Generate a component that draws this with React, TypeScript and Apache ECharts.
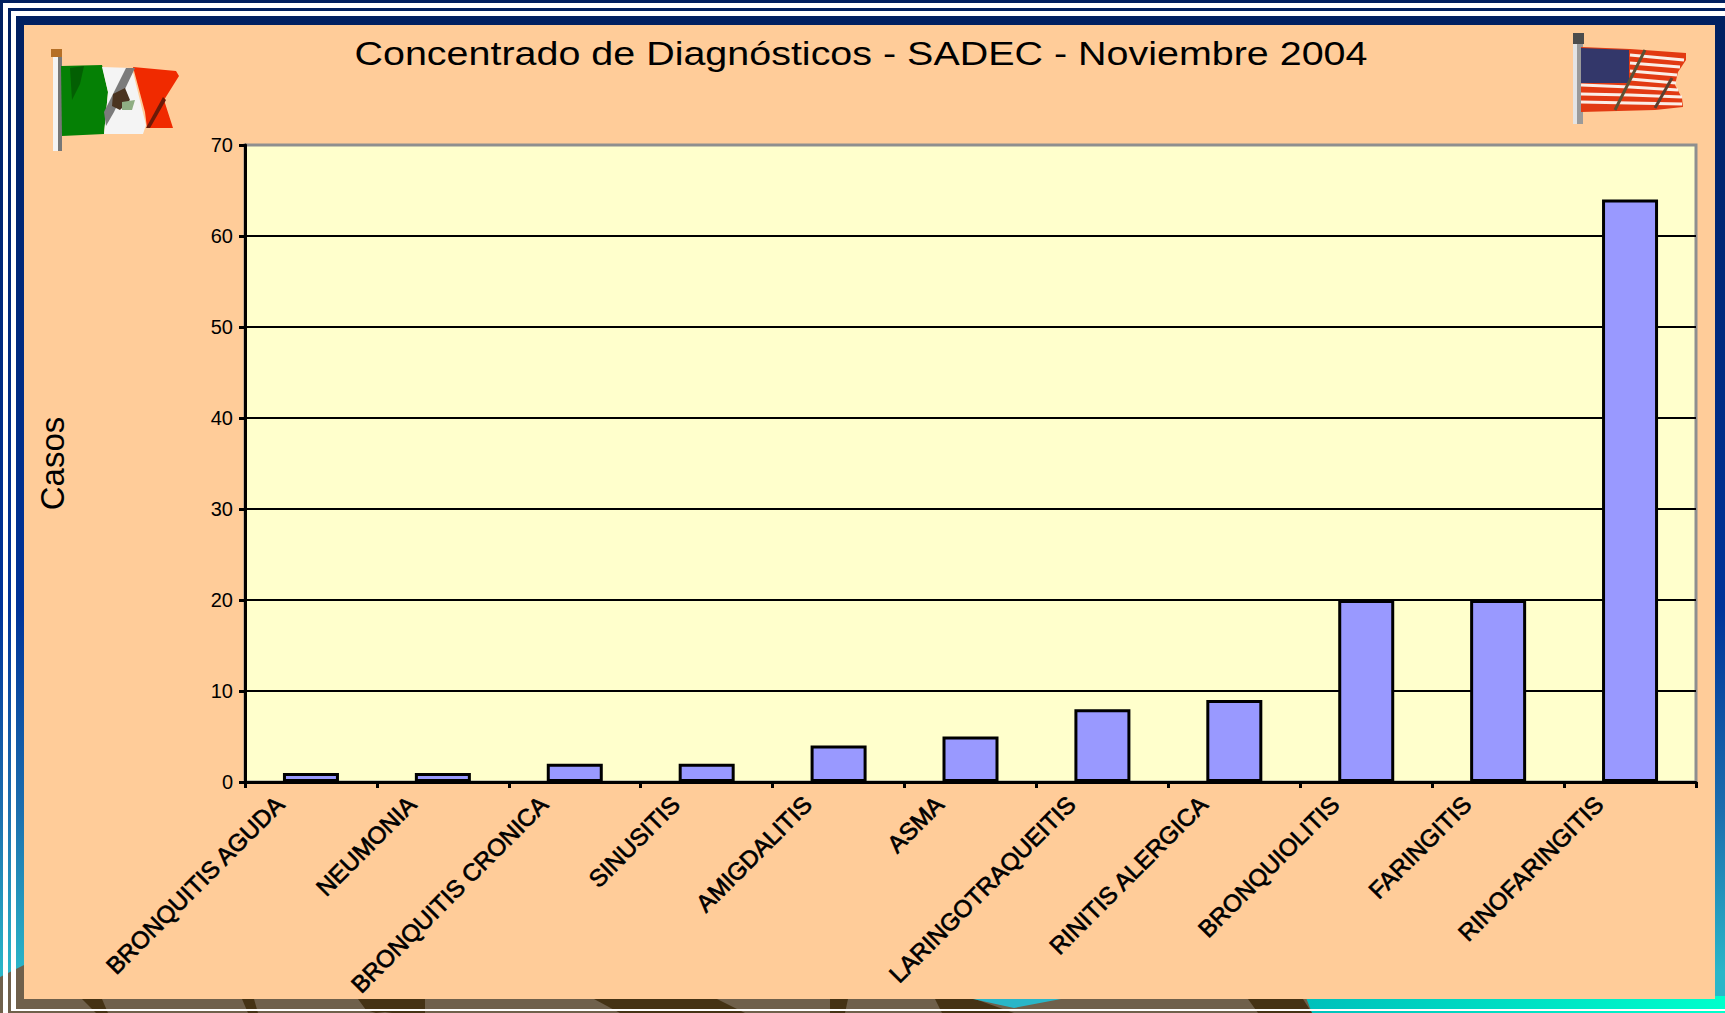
import React, { useEffect, useRef } from "react";
import * as echarts from "echarts";

const categories = ["BRONQUITIS AGUDA", "NEUMONIA", "BRONQUITIS CRONICA", "SINUSITIS", "AMIGDALITIS", "ASMA", "LARINGOTRAQUEITIS", "RINITIS ALERGICA", "BRONQUIOLITIS", "FARINGITIS", "RINOFARINGITIS"];
const casos = [1, 1, 2, 2, 4, 5, 8, 9, 20, 20, 64];
const titleText = "Concentrado de Diagnósticos - SADEC - Noviembre 2004";
const yName = "Casos";

const poly = (points: number[][], fill: string, z = 5) => ({ type: "polygon", z, silent: true, shape: { points }, style: { fill } });
const rect = (x: number, y: number, width: number, height: number, fill: any, z = -5) => ({ type: "rect", z, silent: true, shape: { x, y, width, height }, style: { fill } });
const stroke = (points: number[][], color: string, lineWidth: number, z = 6) => ({ type: "polyline", z, silent: true, shape: { points }, style: { stroke: color, lineWidth, fill: "none" } });

const skyGradient = new echarts.graphic.LinearGradient(0, 0, 0, 1, [
  { offset: 0, color: "#001f5f" },
  { offset: 0.6, color: "#003399" },
  { offset: 0.8, color: "#1c6eae" },
  { offset: 0.96, color: "#2ab6c8" },
  { offset: 1, color: "#2ab6c8" },
]);
const seaGradient = new echarts.graphic.LinearGradient(0, 0, 1, 0, [
  { offset: 0, color: "#00bfbb" },
  { offset: 1, color: "#00ffcc" },
]);

const backdrop = [
  rect(0, 0, 1725, 1013, skyGradient, -20),
  rect(1300, 996, 425, 17, seaGradient, -19),
  poly([[0, 1013], [0, 977], [24, 965], [80, 958], [1000, 960], [1303, 990], [1312, 1013]], "#6f604b", -19),
  poly([[82, 999], [102, 999], [108, 1013], [96, 1013]], "#453315", -18),
  poly([[242, 999], [254, 999], [258, 1013], [248, 1013]], "#453315", -18),
  poly([[358, 999], [425, 999], [425, 1013], [392, 1013], [385, 1012], [376, 1013], [366, 1010]], "#453315", -18),
  poly([[594, 999], [717, 999], [745, 1013], [620, 1013]], "#453315", -18),
  poly([[830, 999], [848, 999], [845, 1013], [830, 1013]], "#453315", -18),
  poly([[935, 999], [975, 999], [1014, 1013], [942, 1013]], "#453315", -18),
  poly([[973, 999], [1061, 999], [1014, 1008]], "#2ab6c8", -17),
  poly([[1248, 999], [1303, 999], [1312, 1013], [1258, 1013]], "#453315", -18),
  rect(3, 3, 5, 1010, "#ffffff", -10),
  rect(3, 3, 1722, 5, "#ffffff", -10),
  rect(11, 11, 5, 998, "#ffffff", -10),
  rect(11, 11, 1714, 5, "#ffffff", -10),
  rect(11, 1009, 1714, 2, "#ffffff", -10),
  rect(24, 25, 1691, 974, "#ffcc99", -8),
];

const mexicoFlag = [
  rect(53, 57, 9, 94, "#f4f4f4", 5),
  rect(58, 57, 4, 94, "#777777", 5),
  rect(51, 49, 11, 8, "#b56f26", 5),
  poly([[61, 66], [102, 65], [108, 92], [104, 134], [62, 136]], "#058005"),
  poly([[70, 68], [84, 66], [80, 84], [72, 100]], "#035f03", 6),
  poly([[102, 67], [132, 68], [146, 125], [143, 134], [104, 134], [108, 92]], "#f4f4f4"),
  poly([[133, 67], [176, 71], [179, 76], [164, 100], [173, 128], [147, 128], [145, 112]], "#f02a00"),
  poly([[126, 68], [135, 68], [114, 112], [106, 126], [104, 112]], "#7b7b7b", 6),
  poly([[163, 97], [166, 100], [150, 128], [146, 128]], "#6b1a08", 6),
  poly([[113, 94], [125, 88], [130, 100], [120, 110], [112, 106]], "#4a3320", 7),
  poly([[122, 102], [135, 100], [132, 110], [122, 110]], "#8fae83", 7),
];

const usFlag = [
  rect(1573, 38, 10, 86, "#e4e4e4", 5),
  rect(1577, 38, 6, 86, "#9a9a9a", 5),
  rect(1573, 33, 11, 11, "#4c4c4c", 5),
  poly([[1581, 47], [1630, 49], [1686, 53], [1686, 60], [1678, 72], [1675, 85], [1682, 98], [1683, 107], [1655, 110], [1581, 112]], "#e23a12"),
  stroke([[1630, 55], [1684, 60]], "#fbeee6", 3),
  stroke([[1630, 63], [1680, 67]], "#fbeee6", 3),
  stroke([[1630, 71], [1677, 75]], "#fbeee6", 3),
  stroke([[1630, 79], [1676, 83]], "#fbeee6", 3),
  stroke([[1581, 85], [1630, 87], [1678, 90]], "#fbeee6", 3),
  stroke([[1581, 94], [1630, 95], [1682, 97]], "#fbeee6", 3),
  stroke([[1581, 102], [1630, 103], [1682, 104]], "#fbeee6", 3),
  poly([[1581, 48], [1629, 50], [1629, 83], [1581, 83]], "#33376a", 7),
  stroke([[1645, 50], [1615, 110]], "#5b5135", 3, 8),
  stroke([[1672, 78], [1655, 108]], "#5b4030", 3, 8),
];

const option: any = {
  animation: false,
  backgroundColor: "transparent",
  textStyle: { fontFamily: "Liberation Sans" },
  grid: { left: 245, right: 29, top: 145, bottom: 231, show: true, backgroundColor: "#ffffcc", borderColor: "#8f8f8f", borderWidth: 3, containLabel: false },
  xAxis: {
    type: "category",
    data: categories,
    axisLine: { lineStyle: { color: "#000", width: 3 } },
    axisTick: { show: true, length: 6, lineStyle: { color: "#000", width: 3 } },
    axisLabel: { interval: 0, rotate: 45, margin: -13, padding: [0, 44, 0, 0], color: "#000", fontFamily: "Liberation Sans", fontSize: 24, fontWeight: "normal", textBorderColor: "#000", textBorderWidth: 0.7 },
  },
  yAxis: {
    type: "value",
    min: 0,
    max: 70,
    interval: 10,
    name: yName,
    nameLocation: "middle",
    nameGap: 176,
    nameTextStyle: { color: "#000", fontFamily: "Liberation Sans", fontSize: 33 },
    axisLine: { show: true, lineStyle: { color: "#000", width: 3 } },
    axisTick: { show: true, length: 6, lineStyle: { color: "#000", width: 3 } },
    axisLabel: { margin: 12, color: "#000", fontFamily: "Liberation Sans", fontSize: 20 },
    splitLine: { show: true, lineStyle: { color: ["#000", "#000", "#000", "#000", "#000", "#000", "#000", "#8f8f8f"], width: 2 } },
  },
  series: [{
    type: "bar",
    data: casos,
    barWidth: 56,
    itemStyle: { color: "#9999ff", borderColor: "#000", borderWidth: 3 },
  }],
  graphic: [
    ...backdrop,
    ...mexicoFlag,
    ...usFlag,
    { type: "text", z: 10, silent: true, x: 861, y: 54, scaleX: 1.196, style: { text: titleText, fill: "#000", fontFamily: "Liberation Sans", fontSize: 33, align: "center", verticalAlign: "middle" } },
  ],
};

export default function App() {
  const ref = useRef<HTMLDivElement>(null);
  useEffect(() => {
    document.body.style.margin = "0";
    document.documentElement.style.overflow = "hidden";
    const chart = echarts.init(ref.current!, undefined, { renderer: "svg" });
    chart.setOption(option);
    return () => chart.dispose();
  }, []);
  return <div ref={ref} style={{ width: 1725, height: 1013 }} />;
}
